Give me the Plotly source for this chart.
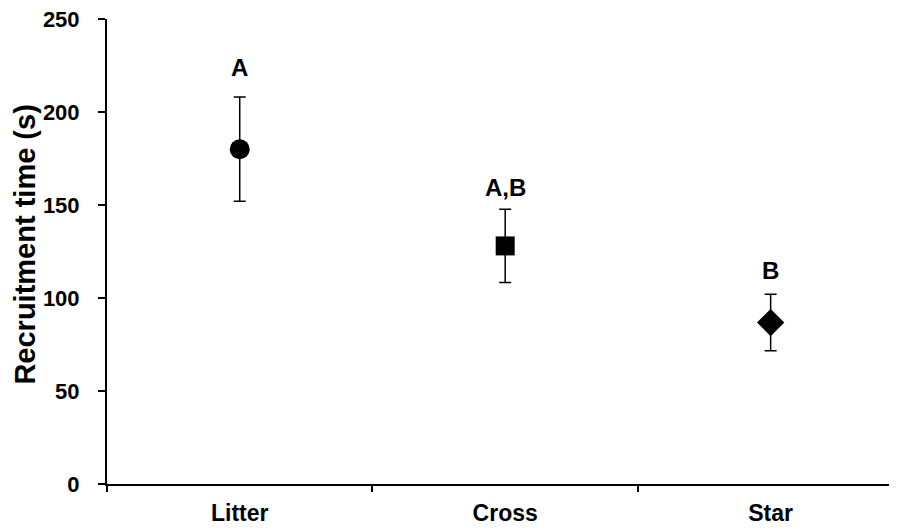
import plotly.graph_objects as go

categories = ["Litter", "Cross", "Star"]
means = [180.0, 128.0, 86.8]
errors = [28.0, 19.7, 15.2]
symbols = ["circle", "square", "diamond"]
letters = ["A", "A,B", "B"]
letter_y = [223.7, 159.5, 114.9]
y_ticks = [0, 50, 100, 150, 200, 250]

FONT = "Liberation Sans, Arial, sans-serif"

fig = go.Figure()
fig.add_trace(go.Scatter(
    x=categories, y=means, mode="markers",
    marker=dict(symbol=symbols, size=[20, 19, 21], color="black",
                opacity=1, line=dict(width=0)),
    error_y=dict(type="data", array=errors, visible=True,
                 color="black", thickness=1.5, width=6),
    showlegend=False,
))

for c, t, yy in zip(categories, letters, letter_y):
    fig.add_annotation(x=c, y=yy, text="<b>%s</b>" % t, showarrow=False,
                       font=dict(family=FONT, size=24, color="black"),
                       yanchor="middle")

fig.add_annotation(xref="paper", yref="paper", x=-0.105, y=0.515,
                   text="<b>Recruitment time (s)</b>", textangle=-90,
                   showarrow=False, xanchor="center", yanchor="middle",
                   font=dict(family=FONT, size=29, color="black"))

fig.update_layout(
    width=889, height=523,
    margin=dict(l=99, r=0, t=11, b=47),
    plot_bgcolor="white", paper_bgcolor="white",
    font=dict(family=FONT, size=22, color="black"),
    xaxis=dict(
        type="category", range=[-0.5, 2.476],
        tickson="boundaries", ticks="outside", ticklen=6, tickwidth=2,
        tickcolor="black", showline=True, linecolor="black", linewidth=2,
        showgrid=False, zeroline=False,
        tickfont=dict(family=FONT, size=23, color="black"),
        ticklabelstandoff=7,
    ),
    yaxis=dict(
        range=[0, 250], tickvals=y_ticks,
        ticktext=["<b>%d</b>" % v for v in y_ticks],
        ticks="outside", ticklen=7, tickwidth=2, tickcolor="black",
        showline=True, linecolor="black", linewidth=2,
        showgrid=False, zeroline=False,
        tickfont=dict(family=FONT, size=22, color="black"),
        ticklabelstandoff=14, ticklabeloverflow="allow",
    ),
)
fig.update_xaxes(ticktext=["<b>%s</b>" % c for c in categories],
                 tickvals=categories)

fig.write_html("out.html")
